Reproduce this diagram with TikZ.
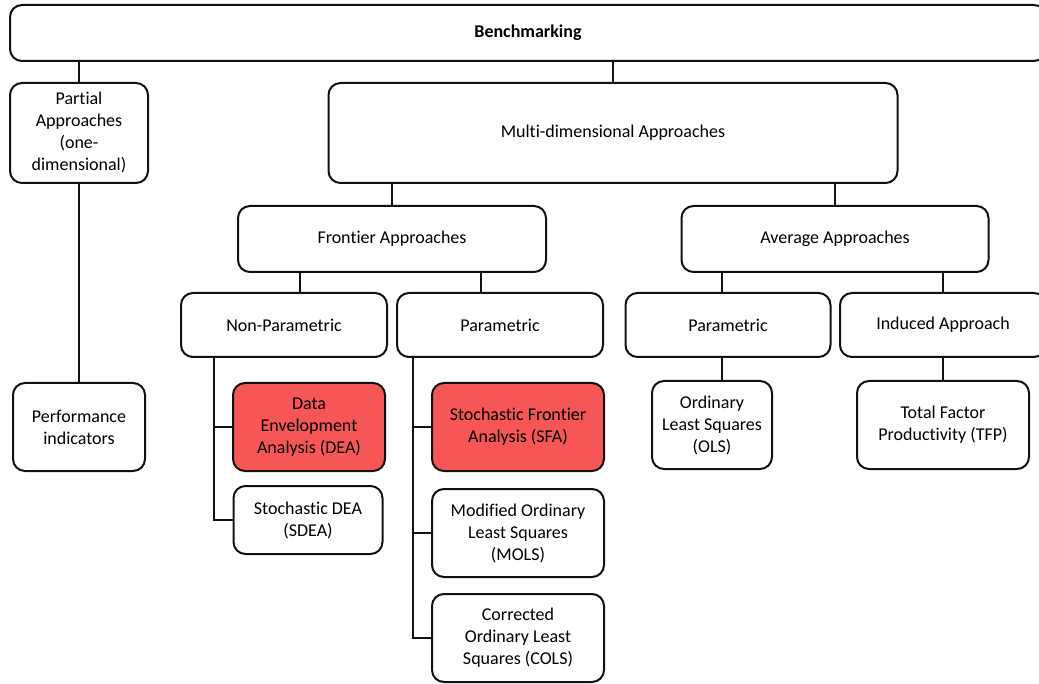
\documentclass[tikz,border=0pt]{standalone}
\usepackage{fontspec}
\setmainfont{Carlito}[Ligatures=NoCommon]
\usetikzlibrary{positioning}
\definecolor{hilite}{HTML}{F75656}
\definecolor{frameline}{HTML}{111111}

\begin{document}
\begin{tikzpicture}[x=1pt,y=-1pt,
  box/.style={draw=frameline,rounded corners=12pt,line width=2pt,align=center,inner sep=2pt,font=\fontsize{18}{22}\selectfont},
  keybox/.style={box,fill=hilite},
  link/.style={line width=2pt,draw=frameline}
]
\useasboundingbox (0,0) rectangle (1039,684);
% top levels
\node[box,font=\fontsize{18}{22}\selectfont\bfseries,minimum width=1036pt,minimum height=56pt] (bench) at (528,33) {Benchmarking};
\node[box,minimum width=138pt,minimum height=100pt] (partial) at (79,133) {Partial\\Approaches\\(one-\\dimensional)};
\node[box,minimum width=569pt,minimum height=100pt] (multi) at (613,133) {Multi-dimensional Approaches};
\node[box,minimum width=132pt,minimum height=88pt] (perf) at (79,427) {Performance\\indicators};
\node[box,minimum width=308pt,minimum height=66pt] (frontier) at (392,239) {Frontier Approaches};
\node[box,minimum width=307pt,minimum height=66pt] (average) at (835,239) {Average Approaches};
% third level
\node[box,minimum width=206pt,minimum height=64pt] (nonpar) at (284,325) {Non-Parametric};
\node[box,minimum width=206pt,minimum height=64pt] (par) at (500,325) {Parametric};
\node[box,minimum width=205pt,minimum height=64pt] (avgpar) at (728,325) {Parametric};
\node[box,minimum width=206pt,minimum height=64pt] (induced) at (943,325) {Induced Approach};
% methods
\node[keybox,minimum width=152pt,minimum height=88pt] (dea) at (309,427) {Data\\Envelopment\\Analysis (DEA)};
\node[box,minimum width=149pt,minimum height=68pt] (sdea) at (308,520) {Stochastic DEA\\(SDEA)};
\node[keybox,minimum width=172pt,minimum height=88pt] (sfa) at (518,427) {Stochastic Frontier\\Analysis (SFA)};
\node[box,minimum width=172pt,minimum height=88pt] (mols) at (518,533) {Modified Ordinary\\Least Squares\\(MOLS)};
\node[box,minimum width=172pt,minimum height=88pt] (cols) at (518,638) {Corrected\\Ordinary Least\\Squares (COLS)};
\node[box,minimum width=120pt,minimum height=88pt] (ols) at (712,425) {Ordinary\\Least Squares\\(OLS)};
\node[box,minimum width=172pt,minimum height=88pt] (tfp) at (943,425) {Total Factor\\Productivity (TFP)};
% connectors
\draw[link] (partial.north) -- (partial.north |- bench.south);
\draw[link] (multi.north) -- (multi.north |- bench.south);
\draw[link] (partial.south) -- (perf.north);
\draw[link] (frontier.north) -- (frontier.north |- multi.south);
\draw[link] (average.north) -- (average.north |- multi.south);
\draw[link] ([xshift=16pt]nonpar.north) -- ([xshift=16pt]nonpar.north |- frontier.south);
\draw[link] ([xshift=-19pt]par.north) -- ([xshift=-19pt]par.north |- frontier.south);
\draw[link] ([xshift=-6pt]avgpar.north) -- ([xshift=-6pt]avgpar.north |- average.south);
\draw[link] (induced.north) -- (induced.north |- average.south);
\draw[link] ([xshift=10pt]ols.north) -- ([xshift=10pt]ols.north |- avgpar.south);
\draw[link] (tfp.north) -- (tfp.north |- induced.south);
\draw[link] ([xshift=-70pt]nonpar.south) |- (sdea.west);
\draw[link] ([xshift=-70pt]nonpar.south |- dea.west) -- (dea.west);
\draw[link] ([xshift=-87pt]par.south) |- (cols.west);
\draw[link] ([xshift=-87pt]par.south |- sfa.west) -- (sfa.west);
\draw[link] ([xshift=-87pt]par.south |- mols.west) -- (mols.west);
\end{tikzpicture}
\end{document}
